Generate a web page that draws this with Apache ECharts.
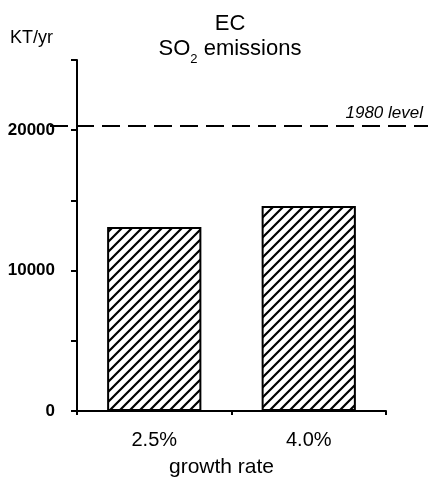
<!DOCTYPE html>
<html>
<head>
<meta charset="utf-8">
<script src="https://cdn.jsdelivr.net/npm/echarts@6/dist/echarts.min.js"></script>
<style>
  html, body { margin: 0; padding: 0; background: #fff; }
  #chart { width: 428px; height: 484px; }
</style>
</head>
<body>
<div id="chart"></div>
<script>
// Scenario categories (annual growth rate) and projected SO2 emissions, KT/yr
var growthRates = ['2.5%', '4.0%'];
var emissions = [13100, 14600];
// Reference emission level for 1980
var level1980 = 20300;
// Value-axis ticks and the ones that carry a label
var yTicks = [0, 5000, 10000, 15000, 20000, 25000];
var yTickLabels = ['0', '', '10000', '', '20000', ''];

var FONT = '"Liberation Sans", Arial, Helvetica, sans-serif';

// Diagonal hatching used to fill the bars
function hatchPattern() {
  var c = document.createElement('canvas');
  var s = 10;
  c.width = s; c.height = s;
  var g = c.getContext('2d');
  g.fillStyle = '#fff';
  g.fillRect(0, 0, s, s);
  g.strokeStyle = '#000';
  g.lineWidth = 2.2;
  g.beginPath();
  g.moveTo(-s, s); g.lineTo(s, -s);
  g.moveTo(0, s); g.lineTo(s, 0);
  g.moveTo(0, 2 * s); g.lineTo(2 * s, 0);
  g.stroke();
  return c;
}

var chart = echarts.init(document.getElementById('chart'), null, { renderer: 'canvas' });

var option = {
  animation: false,
  backgroundColor: '#fff',
  title: [
    {
      text: 'EC\n{m|SO}{sub|2}{m| emissions}',
      left: 225,
      top: 5,
      textAlign: 'center',
      textStyle: {
        fontFamily: FONT, fontSize: 22, fontWeight: 'normal', color: '#000', lineHeight: 28,
        rich: {
          m: { fontFamily: FONT, fontSize: 22, color: '#000', padding: [0, 0, 6, 0] },
          sub: { fontFamily: FONT, fontSize: 13, color: '#000', verticalAlign: 'bottom' }
        }
      }
    },
    {
      text: 'KT/yr',
      left: 5,
      top: 24,
      textStyle: { fontFamily: FONT, fontSize: 18, fontWeight: 'normal', color: '#000' }
    }
  ],
  grid: [
    { left: 77, right: 42, top: 60, bottom: 73, containLabel: false },
    { left: 50, right: 0, top: 60, bottom: 73, containLabel: false }
  ],
  xAxis: [
    {
      gridIndex: 0,
      type: 'category',
      data: growthRates,
      boundaryGap: true,
      name: 'growth rate',
      nameLocation: 'middle',
      nameGap: 46,
      nameTextStyle: { fontFamily: FONT, fontSize: 21, color: '#000', padding: [0, 20, 0, 0] },
      axisLine: { lineStyle: { color: '#000', width: 2 } },
      axisTick: { show: true, length: 4, lineStyle: { color: '#000', width: 2 } },
      axisLabel: { fontFamily: FONT, fontSize: 20, color: '#000', margin: 19 },
      splitLine: { show: false }
    },
    { gridIndex: 1, type: 'value', min: 0, max: 1, show: false }
  ],
  yAxis: [
    {
      gridIndex: 0,
      type: 'value',
      min: yTicks[0],
      max: yTicks[yTicks.length - 1],
      interval: yTicks[1] - yTicks[0],
      axisLine: { show: true, lineStyle: { color: '#000', width: 2 } },
      axisTick: { show: true, length: 6, lineStyle: { color: '#000', width: 2 } },
      axisLabel: {
        fontFamily: FONT, fontSize: 17, fontWeight: 'bold', color: '#000', margin: 22,
        formatter: function (v) {
          var i = yTicks.indexOf(v);
          return i >= 0 ? yTickLabels[i] : '';
        }
      },
      splitLine: { show: false }
    },
    { gridIndex: 1, type: 'value', min: yTicks[0], max: yTicks[yTicks.length - 1], show: false }
  ],
  series: [
    {
      type: 'bar',
      xAxisIndex: 0,
      yAxisIndex: 0,
      data: emissions,
      barWidth: '61%',
      itemStyle: {
        color: { image: hatchPattern(), repeat: 'repeat' },
        borderColor: '#000',
        borderWidth: 2
      },
      silent: true
    },
    {
      type: 'line',
      xAxisIndex: 1,
      yAxisIndex: 1,
      data: [],
      silent: true,
      markLine: {
        silent: true,
        symbol: 'none',
        animation: false,
        data: [{ yAxis: level1980 }],
        lineStyle: { color: '#000', width: 2, type: [18, 8] },
        label: {
          show: true,
          position: 'insideEndTop',
          formatter: '1980 level',
          fontFamily: FONT,
          fontSize: 17,
          fontStyle: 'italic',
          color: '#000',
          distance: [5, 4]
        }
      }
    }
  ]
};

chart.setOption(option);
</script>
</body>
</html>
